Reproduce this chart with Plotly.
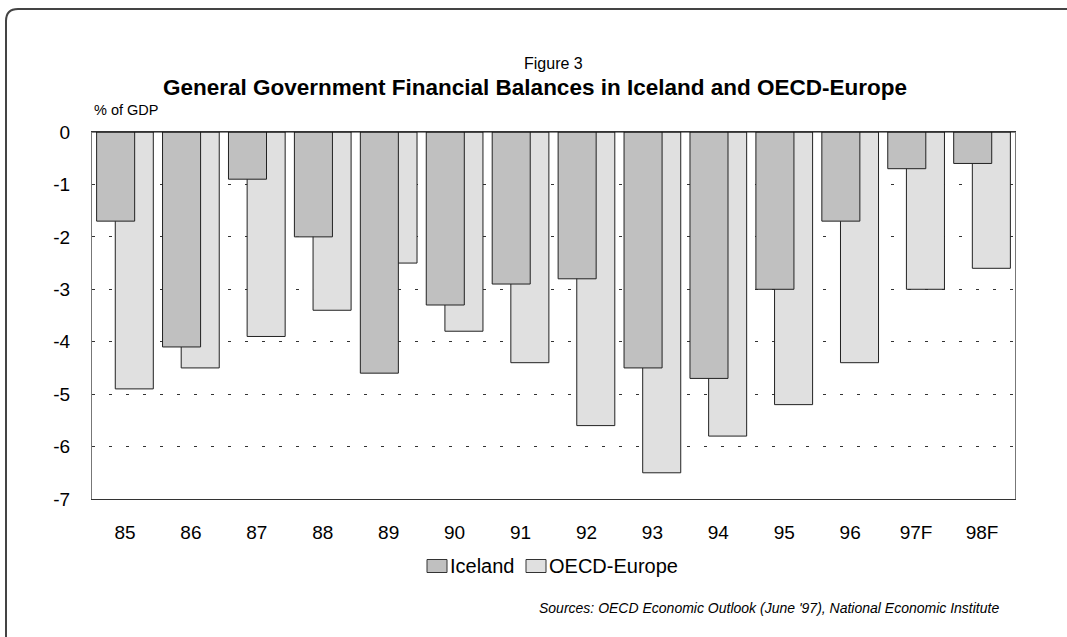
import plotly.graph_objects as go

# Fiscal balance, % of GDP
years = ["85", "86", "87", "88", "89", "90", "91", "92", "93", "94", "95", "96", "97F", "98F"]
iceland = [-1.7, -4.1, -0.9, -2.0, -4.6, -3.3, -2.9, -2.8, -4.5, -4.7, -3.0, -1.7, -0.7, -0.6]
oecd_europe = [-4.9, -4.5, -3.9, -3.4, -2.5, -3.8, -4.4, -5.6, -6.5, -5.8, -5.2, -4.4, -3.0, -2.6]
y_ticks = [0, -1, -2, -3, -4, -5, -6, -7]

ICELAND_COLOR = "#c0c0c0"
OECD_COLOR = "#e0e0e0"
EDGE = "#222222"

W, H = 1067, 637
L, R, T, B = 92, 52, 132, 138
PW, PH = W - L - R, H - T - B


def px(x):
    return (x - L) / PW


def py(y):
    return 1 - (y - T) / PH


FONT = "Liberation Sans, Arial, sans-serif"

fig = go.Figure()

# OECD-Europe drawn first so the Iceland bars overlap it
fig.add_trace(go.Bar(
    x=years, y=oecd_europe, name="OECD-Europe",
    width=0.577, offset=-0.147,
    marker=dict(color=OECD_COLOR, line=dict(color=EDGE, width=1)),
))
fig.add_trace(go.Bar(
    x=years, y=iceland, name="Iceland",
    width=0.577, offset=-0.43,
    marker=dict(color=ICELAND_COLOR, line=dict(color=EDGE, width=1)),
))

# rounded outer frame
frame = (f"M {px(6)},{py(660)} L {px(6)},{py(21)} "
         f"Q {px(6)},{py(9)} {px(18)},{py(9)} L {px(1080)},{py(9)}")

shapes = [
    dict(type="path", xref="paper", yref="paper", path=frame,
         line=dict(color="#444444", width=2)),
    dict(type="line", xref="paper", yref="y", x0=0, x1=1, y0=0, y1=0,
         line=dict(color="#111111", width=1), layer="above"),
]

annotations = [
    dict(text="Figure 3", xref="paper", yref="paper", x=px(553), y=py(64),
         xanchor="center", yanchor="middle", showarrow=False,
         font=dict(size=16, family=FONT)),
    dict(text="<b>General Government Financial Balances in Iceland and OECD-Europe</b>",
         xref="paper", yref="paper", x=px(535), y=py(87),
         xanchor="center", yanchor="middle", showarrow=False,
         font=dict(size=22.5, family=FONT)),
    dict(text="% of GDP", xref="paper", yref="paper", x=px(92), y=py(110),
         xanchor="left", yanchor="middle", showarrow=False,
         font=dict(size=14.5, family=FONT)),
    dict(text="<i>Sources: OECD Economic Outlook (June '97), National Economic Institute</i>",
         xref="paper", yref="paper", x=px(1001), y=py(608),
         xanchor="right", yanchor="middle", showarrow=False,
         font=dict(size=14, family=FONT)),
]

# legend: swatch box followed directly by its label
legend_items = [("Iceland", ICELAND_COLOR, 427), ("OECD-Europe", OECD_COLOR, 526)]
for label, color, x0 in legend_items:
    shapes.append(dict(type="rect", xref="paper", yref="paper",
                       x0=px(x0), x1=px(x0 + 20), y0=py(572.5), y1=py(559.5),
                       fillcolor=color, line=dict(color="#333333", width=1)))
    annotations.append(dict(text=label, xref="paper", yref="paper",
                            x=px(x0 + 21), y=py(566), xanchor="left", yanchor="middle",
                            showarrow=False, font=dict(size=20, family=FONT)))

fig.update_layout(
    width=W, height=H,
    margin=dict(l=L, r=R, t=T, b=B),
    paper_bgcolor="white", plot_bgcolor="white",
    barmode="overlay",
    font=dict(family=FONT, size=16, color="#000000"),
    showlegend=False,
    xaxis=dict(
        type="category", range=[-0.5, 13.5],
        showline=True, linecolor="#333333", linewidth=1, mirror=True,
        showgrid=False, ticks="", tickfont=dict(size=19), ticklabelstandoff=16,
        fixedrange=True,
    ),
    yaxis=dict(
        range=[-7, 0], tickvals=y_ticks, ticktext=[str(v) for v in y_ticks],
        showline=True, linecolor="#777777", linewidth=1, mirror=True,
        showgrid=True, gridcolor="#333333", gridwidth=1, griddash="3px,14px",
        zeroline=False, ticks="", tickfont=dict(size=19), ticklabelstandoff=17,
        fixedrange=True,
    ),
    shapes=shapes,
    annotations=annotations,
)

fig.write_html("out.html")
